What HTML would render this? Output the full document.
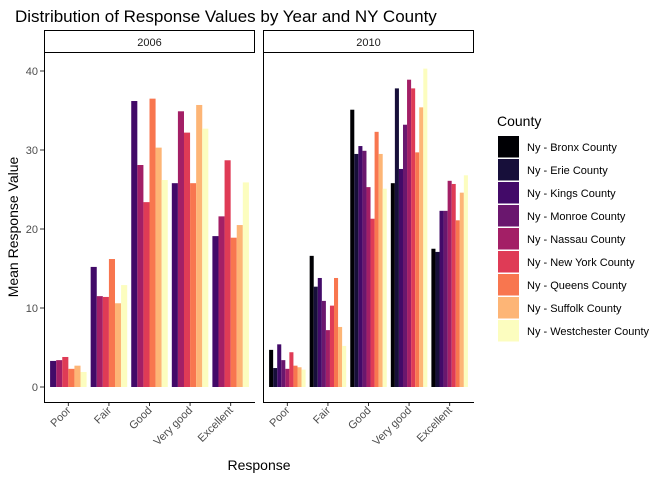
<!DOCTYPE html>
<html><head><meta charset="utf-8"><style>
body{margin:0;background:#fff;font-family:"Liberation Sans",sans-serif}
svg text{font-family:"Liberation Sans",sans-serif}
</style></head><body>
<svg id="chart" width="672" height="480" xmlns="http://www.w3.org/2000/svg">
<text x="15" y="22" font-size="17" fill="#000">Distribution of Response Values by Year and NY County</text>
<text transform="translate(18,227) rotate(-90)" text-anchor="middle" font-size="14">Mean Response Value</text>
<text x="259" y="470" text-anchor="middle" font-size="14">Response</text>
<g id="plot"></g>
<g id="legend"></g>
</svg>
<script>
const categories = ["Poor","Fair","Good","Very good","Excellent"];
const counties = ["Ny - Bronx County","Ny - Erie County","Ny - Kings County","Ny - Monroe County","Ny - Nassau County","Ny - New York County","Ny - Queens County","Ny - Suffolk County","Ny - Westchester County"];
const colors = ["#000004","#170f3a","#420a68","#6a176e","#a31f66","#df3b56","#f8764f","#fdb576","#fcfdbf"];
const years = ["2006","2010"];
const counties2006 = [2,4,5,6,7,8];
const values2006 = [
 [3.3,3.4,3.8,2.3,2.7,1.9],
 [15.2,11.5,11.4,16.2,10.6,12.9],
 [36.2,28.1,23.4,36.5,30.3,26.2],
 [25.8,34.9,32.2,25.8,35.7,32.7],
 [19.1,21.6,28.7,18.9,20.5,25.9]];
const counties2010 = [0,1,2,3,4,5,6,7,8];
const values2010 = [
 [4.7,2.4,5.4,3.4,2.3,4.4,2.7,2.5,2.2],
 [16.6,12.7,13.8,10.9,7.2,10.3,13.8,7.6,5.2],
 [35.1,29.5,30.5,29.9,25.3,21.3,32.3,29.5,25.1],
 [25.8,37.8,27.6,33.2,38.9,37.8,29.7,35.4,40.3],
 [17.5,17.1,22.3,22.3,26.1,25.7,21.1,24.6,26.8]];
const yTicks = [0,10,20,30,40];

const NS="http://www.w3.org/2000/svg";
const plot=document.getElementById('plot');
function mk(tag,attrs,parent){const e=document.createElementNS(NS,tag);for(const k in attrs)e.setAttribute(k,attrs[k]);(parent||plot).appendChild(e);return e;}
const yTop=53,yBot=402;
function y(v){return 387-v*7.9;}
const panels=[{x0:44,x1:255,cs:counties2006,vals:values2006},{x0:263,x1:474,cs:counties2010,vals:values2010}];
panels.forEach((p,pi)=>{
  const w=p.x1-p.x0, unit=w/5.2;
  function xc(i){return p.x0+(i+1-0.4)*unit;}
  const strip=mk('rect',{x:p.x0+0.5,y:30.5,width:w-1,height:22,fill:'#fff',stroke:'#000','stroke-width':1});
  
  
  const st=mk('text',{x:(p.x0+p.x1)/2,y:46,'text-anchor':'middle','font-size':11,fill:'#1a1a1a'});
  st.textContent=years[pi];
  
  
  categories.forEach((c,ci)=>{
    const n=p.cs.length, gw=unit*0.9, bw=gw/n, gx=xc(ci)-gw/2;
    p.cs.forEach((cty,k)=>{
      const v=p.vals[ci][k];
      const r=mk('rect',{x:gx+k*bw,y:y(v),width:bw,height:y(0)-y(v),fill:colors[cty]});
      
      
    });
    mk('line',{x1:xc(ci),x2:xc(ci),y1:yBot,y2:yBot+4,stroke:'#333'});
    const t=mk('text',{transform:`translate(${xc(ci)+3},${yBot+9}) rotate(-45)`,'text-anchor':'end','font-size':11,fill:'#4d4d4d'});
    t.textContent=c;
    
    
  });
  mk('line',{x1:p.x0,x2:p.x1,y1:yBot+0.5,y2:yBot+0.5,stroke:'#000'});
  mk('line',{x1:p.x0+0.5,x2:p.x0+0.5,y1:yTop,y2:yBot+0.5,stroke:'#000'});
});
yTicks.forEach(v=>{
  mk('line',{x1:40,x2:44,y1:y(v),y2:y(v),stroke:'#333'});
  const t=mk('text',{x:38,y:y(v)+4,'text-anchor':'end','font-size':11,fill:'#4d4d4d'});
  t.textContent=v;
  
  
});
const lg=document.getElementById('legend');
const lt=mk('text',{x:497,y:126,'font-size':14},lg);
lt.textContent='County';


counties.forEach((c,i)=>{
  const g=mk('g',{},lg);
  
  
  mk('rect',{x:498,y:136+i*23,width:21,height:21.5,fill:colors[i]},g);
  const t=mk('text',{x:527,y:151+i*23,'font-size':11,fill:'#000'},g);
  t.textContent=c;
});
</script>
</body></html>
